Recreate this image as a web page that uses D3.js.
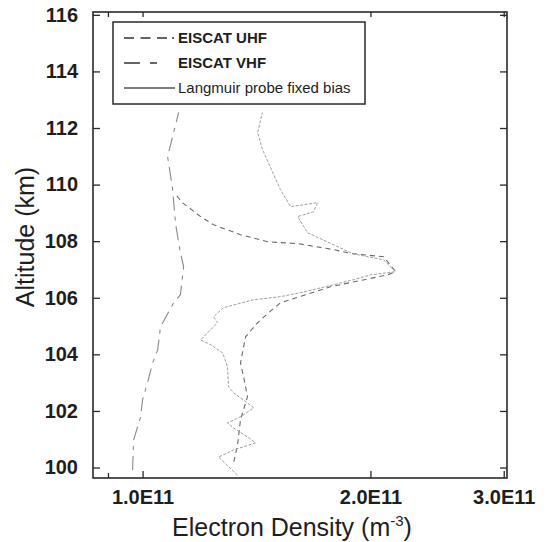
<!DOCTYPE html>
<html>
<head>
<meta charset="utf-8">
<script src="https://cdn.jsdelivr.net/npm/d3@7"></script>
<style>
  html, body { margin: 0; padding: 0; background: #fff; }
  svg { display: block; }
</style>
</head>
<body>
<svg id="chart" width="547" height="542"></svg>
<script>
// ---- data (density in m^-3, altitude in km) ----
const vhfAlt = [99.91, 100.97, 101.79, 102.39, 102.99, 103.70, 104.16, 104.97, 105.82, 106.11, 107.10, 107.59, 108.58, 109.89, 110.99, 112.55];
const vhfDen = [0.970, 0.973, 0.994, 1.000, 1.015, 1.031, 1.047, 1.056, 1.099, 1.122, 1.133, 1.122, 1.106, 1.095, 1.079, 1.116].map(v => v * 1e11);

const uhfAlt = [109.60, 109.36, 108.87, 108.58, 108.23, 107.98, 107.91, 107.70, 107.56, 107.45, 106.92, 106.81, 106.39, 105.82, 105.47, 105.12, 104.62, 103.70, 103.20, 102.50, 101.70, 100.80, 100.20];
const uhfDen = [1.110, 1.129, 1.193, 1.241, 1.347, 1.463, 1.607, 1.788, 1.894, 2.082, 2.159, 2.107, 1.771, 1.521, 1.467, 1.419, 1.368, 1.347, 1.360, 1.376, 1.347, 1.335, 1.320].map(v => v * 1e11);

const langAlt = [99.73, 100.37, 100.62, 100.87, 101.08, 101.40, 101.58, 101.79, 102.11, 102.28, 102.64, 102.85, 103.56, 104.05, 104.34, 104.51, 105.12, 105.33, 105.65, 105.93, 106.04, 106.18, 106.46, 106.64, 106.81, 106.92, 107.34, 107.56, 108.30, 108.87, 109.04, 109.36, 109.22, 109.82, 111.24, 111.84, 112.55];
const langDen = [1.335, 1.260, 1.319, 1.410, 1.376, 1.319, 1.295, 1.347, 1.402, 1.376, 1.319, 1.299, 1.295, 1.276, 1.230, 1.193, 1.256, 1.241, 1.279, 1.402, 1.521, 1.617, 1.788, 1.900, 2.001, 2.159, 2.082, 1.894, 1.652, 1.603, 1.682, 1.703, 1.569, 1.521, 1.440, 1.419, 1.440].map(v => v * 1e11);

const xTickValues = [1e11, 2e11, 3e11];
const xTickLabels = ["1.0E11", "2.0E11", "3.0E11"];
const xMinorTicks = [0.9e11];
const yTickValues = [100, 102, 104, 106, 108, 110, 112, 114, 116];

const legendLabels = ["EISCAT UHF", "EISCAT VHF", "Langmuir probe fixed bias"];

// ---- layout ----
const svg = d3.select("#chart");
const L = 93, R = 507, T = 12, B = 478;

const x = d3.scaleLog().domain([0.86e11, 3.03e11]).range([L, R]);
const y = d3.scaleLinear().domain([99.63, 116.1]).range([B, T]);

const axisColor = "#2a2a2a";
const font = "'Liberation Sans', Arial, sans-serif";

// series
const series = [
  { alt: uhfAlt, den: uhfDen, color: "#6a6a6a", dash: "5,4", width: 1.1 },
  { alt: vhfAlt, den: vhfDen, color: "#8a8a8a", dash: "14,6,4,6", width: 1.1 },
  { alt: langAlt, den: langDen, color: "#a0a0a0", dash: "3,1.5", width: 1.0 }
];

const line = d3.line().x(d => x(d[1])).y(d => y(d[0]));

const plot = svg.append("g");
series.forEach(s => {
  const pts = s.alt.map((a, i) => [a, s.den[i]]);
  plot.append("path")
    .datum(pts)
    .attr("d", line)
    .attr("fill", "none")
    .attr("stroke", s.color)
    .attr("stroke-width", s.width)
    .attr("stroke-dasharray", s.dash);
});

// frame
svg.append("rect")
  .attr("x", L).attr("y", T).attr("width", R - L).attr("height", B - T)
  .attr("fill", "none").attr("stroke", axisColor).attr("stroke-width", 1.6);

// axes (ticks inward)
const yLeft = d3.axisLeft(y).tickValues(yTickValues).tickSizeInner(-7).tickSizeOuter(0).tickPadding(15).tickFormat(d3.format("d"));
const yRight = d3.axisRight(y).tickValues(yTickValues).tickSizeInner(-7).tickSizeOuter(0).tickFormat("");
const xBottom = d3.axisBottom(x).tickValues(xTickValues).tickSizeInner(-7).tickSizeOuter(0).tickPadding(12)
  .tickFormat((d, i) => xTickLabels[i]);
const xTop = d3.axisTop(x).tickValues(xTickValues.concat(xMinorTicks)).tickSizeInner(-5).tickSizeOuter(0).tickFormat("");
const xBottomMinor = d3.axisBottom(x).tickValues(xMinorTicks).tickSizeInner(-5).tickSizeOuter(0).tickFormat("");

function styleAxis(g) {
  g.select(".domain").remove();
  g.selectAll(".tick line").attr("stroke", axisColor).attr("stroke-width", 1.3);
  g.selectAll(".tick text").attr("fill", "#1e1e1e").attr("font-family", font)
    .attr("font-size", 20).attr("font-weight", "bold");
}

svg.append("g").attr("transform", `translate(${L},0)`).call(yLeft).call(styleAxis);
svg.append("g").attr("transform", `translate(${R},0)`).call(yRight).call(styleAxis);
svg.append("g").attr("transform", `translate(0,${B})`).call(xBottom).call(styleAxis);
svg.append("g").attr("transform", `translate(0,${B})`).call(xBottomMinor).call(styleAxis);
svg.append("g").attr("transform", `translate(0,${T})`).call(xTop).call(styleAxis);

// axis titles
const xt = svg.append("text")
  .attr("x", 292).attr("y", 536)
  .attr("text-anchor", "middle")
  .attr("font-family", font).attr("font-size", 25).attr("fill", "#1e1e1e");
xt.append("tspan").text("Electron Density (m");
xt.append("tspan").attr("font-size", 15).attr("dy", -10).text("-3");
xt.append("tspan").attr("dy", 10).text(")");

svg.append("text")
  .attr("transform", `translate(34,${(T + B) / 2 - 8}) rotate(-90)`)
  .attr("text-anchor", "middle")
  .attr("font-family", font).attr("font-size", 25).attr("fill", "#1e1e1e")
  .text("Altitude (km)");

// legend
const lg = svg.append("g");
const lgX = 113, lgY = 22, lgW = 252, lgH = 82;
lg.append("rect").attr("x", lgX).attr("y", lgY).attr("width", lgW).attr("height", lgH)
  .attr("fill", "#fff").attr("stroke", axisColor).attr("stroke-width", 1.5);
const legendStyles = [
  { dash: "10,6.5,10,6.5,10,5,2,60", color: "#333", weight: "bold" },
  { dash: "16,10,7,60", color: "#333", weight: "bold" },
  { dash: null, color: "#555", weight: "normal" }
];
legendLabels.forEach((lab, i) => {
  const cy = lgY + 16 + i * 25;
  lg.append("line").attr("x1", lgX + 11).attr("x2", lgX + 62).attr("y1", cy).attr("y2", cy)
    .attr("stroke", legendStyles[i].color).attr("stroke-width", 1.4)
    .attr("stroke-dasharray", legendStyles[i].dash);
  lg.append("text").attr("x", lgX + 65).attr("y", cy + 5)
    .attr("font-family", font).attr("font-size", 15).attr("font-weight", legendStyles[i].weight)
    .attr("fill", "#1e1e1e").text(lab);
});
</script>
</body>
</html>
